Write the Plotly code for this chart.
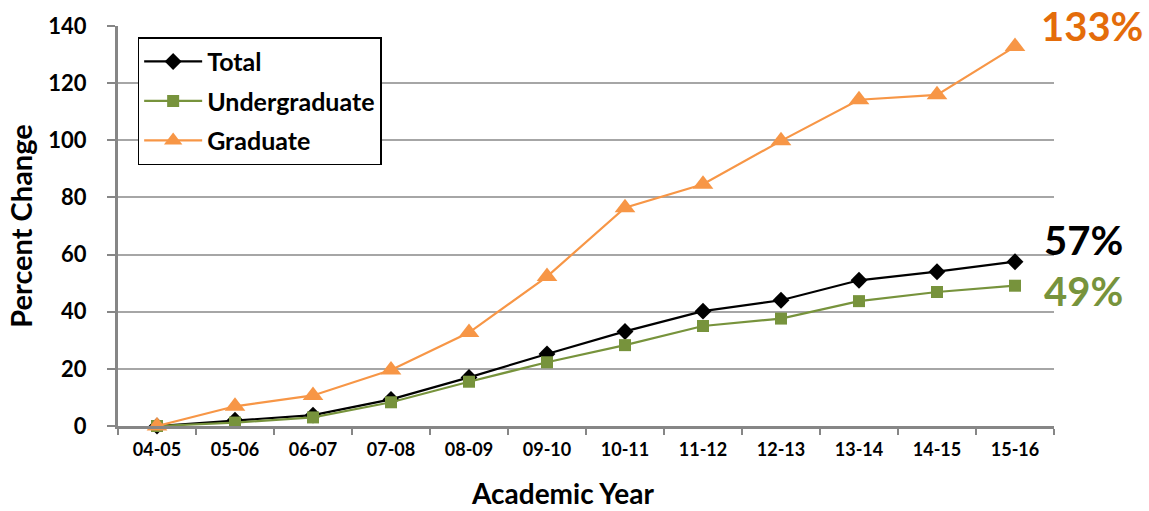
import plotly.graph_objects as go

years = ["04-05", "05-06", "06-07", "07-08", "08-09", "09-10", "10-11",
         "11-12", "12-13", "13-14", "14-15", "15-16"]
total = [0, 2.0, 3.8, 9.3, 17.0, 25.2, 33.1, 40.2, 44.0, 51.0, 54.0, 57.5]
undergrad = [0, 1.2, 3.0, 8.3, 15.5, 22.3, 28.3, 35.0, 37.6, 43.7, 46.9, 49.1]
graduate = [0, 6.9, 10.7, 19.6, 32.7, 52.3, 76.4, 84.6, 99.8, 114.2, 115.9, 132.8]
end_labels = ["57%", "49%", "133%"]

FONT = "Lato"
fig = go.Figure()
fig.add_trace(go.Scatter(x=years, y=total, name="Total", mode="lines+markers",
                         line=dict(color="#000000", width=2.2),
                         marker=dict(symbol="diamond", size=13, color="#000000"),
                         legendgroup="a", cliponaxis=False))
fig.add_trace(go.Scatter(x=years, y=undergrad, name="Undergraduate", mode="lines+markers",
                         line=dict(color="#77933C", width=2.2),
                         marker=dict(symbol="square", size=12, color="#77933C"),
                         legendgroup="b", cliponaxis=False))
fig.add_trace(go.Scatter(x=years, y=graduate, name="Graduate", mode="lines+markers",
                         line=dict(color="#F79646", width=2.2),
                         marker=dict(symbol="triangle-up", size=18, color="#F79646"),
                         legendgroup="c", cliponaxis=False))

ann = [
    (end_labels[0], total[-1], 22, "#000000", 27),
    (end_labels[1], undergrad[-1], -5, "#77933C", 27),
    (end_labels[2], graduate[-1], 21, "#E46C0A", 24),
]
for txt, yv, ys, col, xs in ann:
    fig.add_annotation(x=years[-1], y=yv, text=txt, showarrow=False,
                       xanchor="left", yanchor="middle", xshift=xs, yshift=ys,
                       font=dict(family=FONT, size=40, color=col, weight="bold"))

fig.add_annotation(xref="paper", yref="paper", x=0.475, y=0, yshift=-67,
                   text="Academic Year", showarrow=False,
                   xanchor="center", yanchor="middle",
                   font=dict(family=FONT, size=28, weight="bold"))

fig.update_layout(
    width=1149, height=511,
    margin=dict(l=118, r=95, t=19, b=85),
    paper_bgcolor="white", plot_bgcolor="white",
    font=dict(family=FONT, color="#000000"),
    showlegend=True,
    legend=dict(x=0.021, y=0.972, xanchor="left", yanchor="top",
                bordercolor="#000000", borderwidth=1.5, bgcolor="white",
                font=dict(family=FONT, size=25, weight="bold"),
                tracegroupgap=4, itemwidth=58),
    xaxis=dict(type="category", range=[-0.5, 11.5],
               showgrid=False, showline=True, linecolor="#868686", linewidth=3,
               ticks="outside", tickson="boundaries", ticklen=6, tickwidth=2,
               tickcolor="#868686", ticklabelstandoff=5,
               tickfont=dict(family=FONT, size=18, weight="bold")),
    yaxis=dict(range=[0, 140], dtick=20, showgrid=True, gridcolor="#A6A6A6",
               gridwidth=1.5, showline=True, linecolor="#868686", linewidth=3,
               zeroline=False,
               ticks="outside", ticklen=8, tickwidth=2, tickcolor="#868686",
               ticklabelstandoff=16,
               tickfont=dict(family=FONT, size=22, weight="bold"),
               title=dict(text="Percent Change", standoff=8,
                          font=dict(family=FONT, size=29, weight="bold"))),
)

fig.write_html("out.html", config={"displayModeBar": False},
               post_script="document.body.style.margin='0';document.body.style.padding='0';")
